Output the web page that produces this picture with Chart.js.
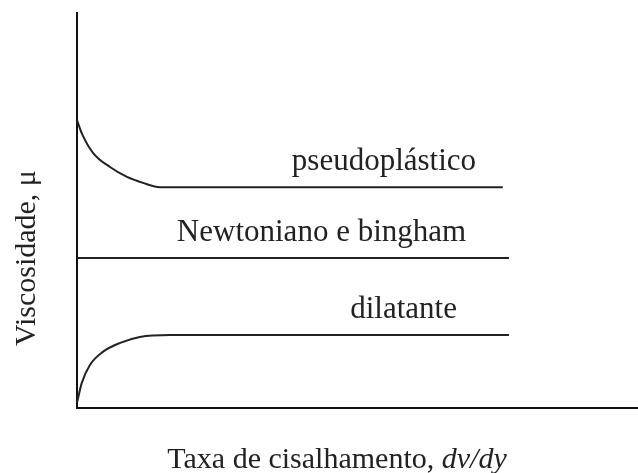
<!DOCTYPE html>
<html>
<head>
<meta charset="utf-8">
<script src="https://cdn.jsdelivr.net/npm/chart.js@4"></script>
<style>
  html, body { margin: 0; padding: 0; background: #fff; }
  #wrap { width: 638px; height: 473px; }
</style>
</head>
<body>
<div id="wrap"><canvas id="canvas" width="638" height="473"></canvas></div>
<script>
// curves (arbitrary units, axes 0..10)
const pseudoX = [0, 0.084, 0.285, 0.588, 0.891, 1.176, 1.48, 7.59];
const pseudoY = [7.29, 6.96, 6.46, 6.10, 5.85, 5.70, 5.59, 5.59];
const newtonX = [0, 7.70];
const newtonY = [3.8, 3.8];
const dilatX = [0, 0.084, 0.23, 0.46, 0.77, 1.12, 1.66, 7.70];
const dilatY = [0.13, 0.63, 1.09, 1.42, 1.65, 1.80, 1.85, 1.85];
const seriesNames = ['pseudoplástico', 'Newtoniano e bingham', 'dilatante'];
const xTitle = 'Taxa de cisalhamento, ';
const xTitleItalic = 'dv/dy';
const yTitle = 'Viscosidade, μ';

// where each curve's label starts (x in data units)
const labelStartX = [3.83, 1.78, 4.87];

const FONT = '"Liberation Serif", "Times New Roman", serif';
const INK = '#222';

function pts(xs, ys) {
    let out = [];
    for (let i = 0; i < xs.length; i++) {
        out.push({x: xs[i], y: ys[i]});
    }
    return out;
}

const textPlugin = {
    id: 'texts',
    afterDraw(chart) {
        const c = chart.ctx;
        const xs = chart.scales.x;
        const ys = chart.scales.y;
        const area = chart.chartArea;
        c.save();
        c.fillStyle = INK;
        c.textBaseline = 'alphabetic';
        c.font = '31px ' + FONT;
        c.textAlign = 'left';
        chart.data.datasets.forEach((ds, i) => {
            const last = ds.data[ds.data.length - 1];
            c.fillText(seriesNames[i], xs.getPixelForValue(labelStartX[i]),
                       ys.getPixelForValue(last.y) - 17);
        });

        // x axis title, last part in italics
        c.font = '30px ' + FONT;
        const w1 = c.measureText(xTitle).width;
        c.font = 'italic 30px ' + FONT;
        const w2 = c.measureText(xTitleItalic).width;
        let x0 = 337 - (w1 + w2) / 2;
        c.font = '30px ' + FONT;
        c.fillText(xTitle, x0, area.bottom + 60);
        c.font = 'italic 30px ' + FONT;
        c.fillText(xTitleItalic, x0 + w1, area.bottom + 60);

        // y axis title
        c.font = '30px ' + FONT;
        c.translate(35, 258);
        c.rotate(-Math.PI / 2);
        c.textAlign = 'center';
        c.fillText(yTitle, 0, 0);
        c.restore();
    }
};

function lineSet(data) {
    return {
        data: data,
        borderColor: INK,
        borderWidth: 2,
        pointRadius: 0,
        fill: false,
        cubicInterpolationMode: 'monotone',
        clip: false
    };
}

const ctx = document.getElementById('canvas').getContext('2d');
const chart = new Chart(ctx, {
    type: 'line',
    data: {
        datasets: [
            lineSet(pts(pseudoX, pseudoY)),
            lineSet(pts(newtonX, newtonY)),
            lineSet(pts(dilatX, dilatY))
        ]
    },
    options: {
        responsive: false,
        animation: false,
        layout: {padding: {left: 77, top: 13, right: 0, bottom: 65}},
        plugins: {legend: {display: false}, tooltip: {enabled: false}},
        scales: {
            x: {
                type: 'linear', min: 0, max: 10,
                ticks: {display: false},
                grid: {display: false, drawTicks: false},
                border: {color: '#111', width: 2}
            },
            y: {
                type: 'linear', min: 0, max: 10,
                ticks: {display: false},
                grid: {display: false, drawTicks: false},
                border: {color: '#111', width: 2}
            }
        }
    },
    plugins: [textPlugin]
});
</script>
</body>
</html>
